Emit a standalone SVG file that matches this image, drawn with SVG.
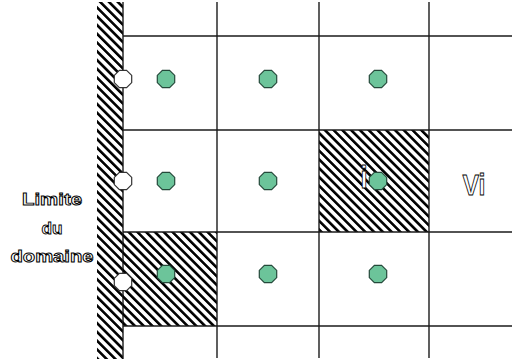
<svg xmlns="http://www.w3.org/2000/svg" width="512" height="364" viewBox="0 0 512 364">
<style>
.grid{stroke:#1a1a1a;stroke-width:1.4;fill:none}
.dot{fill:#6cc49a;stroke:#24493a;stroke-width:1.2}
.ghost{fill:#fff;stroke:#333;stroke-width:1.2}
.lbl{font-family:"Liberation Sans",Arial,sans-serif;font-weight:bold;fill:#fff;stroke:#000;stroke-width:0.9}
</style>
<defs>
<pattern id="hatch" width="6.2" height="6.2" patternUnits="userSpaceOnUse" patternTransform="rotate(-45)">
<rect x="0" y="0" width="2.6" height="6.2" fill="#000"/>
</pattern>
<polygon id="oct" points="3.6,-8.7 8.7,-3.6 8.7,3.6 3.6,8.7 -3.6,8.7 -8.7,3.6 -8.7,-3.6 -3.6,-8.7"/>
</defs>
<rect width="512" height="364" fill="#fff"/>
<g id="wall">
<rect x="97" y="2" width="26" height="357" fill="url(#hatch)"/>
<line x1="123" y1="2" x2="123" y2="359" class="grid"/>
</g>
<g id="hatched-cells">
<rect x="319" y="130" width="110" height="102" fill="url(#hatch)"/>
<rect x="123" y="232" width="94" height="94" fill="url(#hatch)"/>
</g>
<g id="grid">
<line x1="123" y1="36" x2="512" y2="36" class="grid"/>
<line x1="123" y1="130" x2="512" y2="130" class="grid"/>
<line x1="123" y1="232" x2="512" y2="232" class="grid"/>
<line x1="123" y1="326" x2="512" y2="326" class="grid"/>
<line x1="217" y1="2" x2="217" y2="358" class="grid"/>
<line x1="319" y1="2" x2="319" y2="358" class="grid"/>
<line x1="429" y1="2" x2="429" y2="358" class="grid"/>
</g>
<g id="centers">
<use href="#oct" class="dot" x="166" y="79"/>
<use href="#oct" class="dot" x="268" y="79"/>
<use href="#oct" class="dot" x="378" y="79"/>
<use href="#oct" class="dot" x="166" y="181"/>
<use href="#oct" class="dot" x="268" y="181"/>
<use href="#oct" class="dot" x="378" y="181"/>
<use href="#oct" class="dot" x="166" y="274"/>
<use href="#oct" class="dot" x="268" y="274"/>
<use href="#oct" class="dot" x="378" y="274"/>
</g>
<g id="boundary-points">
<use href="#oct" class="ghost" x="123" y="79"/>
<use href="#oct" class="ghost" x="123" y="181"/>
<use href="#oct" class="ghost" x="123" y="282"/>
</g>
<g id="label-limite">
<text class="lbl" x="52" y="205" font-size="17" text-anchor="middle" textLength="60" lengthAdjust="spacingAndGlyphs">Limite</text>
<text class="lbl" x="52" y="234" font-size="17" text-anchor="middle" textLength="21" lengthAdjust="spacingAndGlyphs">du</text>
<text class="lbl" x="52" y="262" font-size="17" text-anchor="middle" textLength="83" lengthAdjust="spacingAndGlyphs">domaine</text>
</g>
<g id="label-i">
<text class="lbl" x="364" y="188" font-size="32" text-anchor="middle" textLength="7" lengthAdjust="spacingAndGlyphs">i</text>
</g>
<g id="label-vi">
<text class="lbl" x="474" y="195" font-size="30" text-anchor="middle" textLength="23" lengthAdjust="spacingAndGlyphs">Vi</text>
</g>
</svg>
